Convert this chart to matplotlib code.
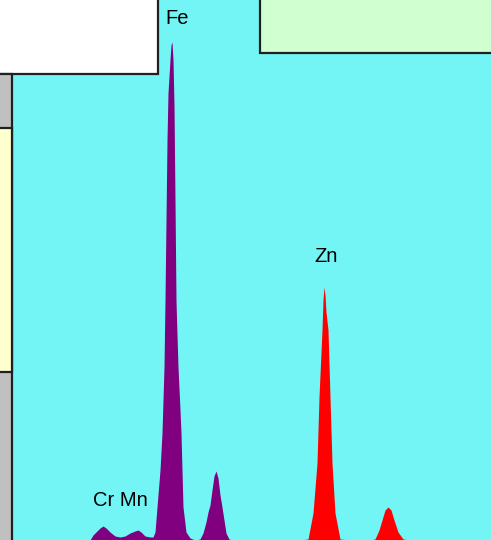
import numpy as np
import matplotlib.pyplot as plt
from matplotlib.patches import Rectangle

# spectrum: channel (x) and counts (height above baseline)
fe_x = [12, 90, 93, 97, 100, 103, 106, 110, 115, 120, 125, 130, 135, 138, 141, 145, 150,
        153, 155, 157, 160, 162, 164, 165, 166, 167, 168, 170, 171, 172,
        173, 174, 175, 176, 177, 178, 180, 181, 182, 183, 186, 190, 195,
        200, 203, 206, 208, 210, 212, 214, 216, 218, 220, 222, 224, 226, 229, 232]
fe_y = [0, 0, 5, 9, 12, 14, 12, 8, 4, 3, 4, 7, 9, 10, 8, 4, 3,
        3, 8, 33, 70, 107, 173, 240, 320, 400, 447, 480, 495, 498,
        480, 435, 340, 240, 205, 173, 130, 107, 70, 33, 8, 2, 0,
        1, 7, 18, 28, 35, 50, 64, 69, 62, 45, 33, 20, 7, 1, 0]

zn_x = [300, 308, 313, 317, 319, 322, 323, 324, 325, 326, 328, 330, 332, 335, 340, 350,
        370, 375, 379, 382, 385, 388, 391, 394, 398, 403, 410]
zn_y = [0, 1, 27, 77, 143, 210, 240, 253, 245, 228, 210, 143, 77, 27, 1, 0,
        0, 1, 10, 20, 30, 33, 30, 20, 8, 1, 0]

labels = ["Fe", "Zn", "Cr Mn"]
label_x = [177, 326, 120]
label_y = [522, 284, 39]

fig = plt.figure(figsize=(4.91, 5.40), dpi=100)
ax = fig.add_axes([0, 0, 1, 1])
ax.set_xlim(0, 491)
ax.set_ylim(0, 540)
ax.set_facecolor('#74f5f5')
ax.axis('off')
fig.patch.set_facecolor('#74f5f5')

ax.fill_between(fe_x, 0, fe_y, color='#800080', lw=0)
ax.fill_between(zn_x, 0, zn_y, color='#ff0000', lw=0)

# frame panels around the plot area
ax.add_patch(Rectangle((-5, 466), 163, 80, facecolor='white', edgecolor='#202020', lw=1.6, zorder=5))
ax.add_patch(Rectangle((260, 487), 240, 60, facecolor='#d0ffd0', edgecolor='#202020', lw=1.6, zorder=5))
ax.add_patch(Rectangle((-5, -5), 17, 471, facecolor='#c0c0c0', edgecolor='#202020', lw=1.6, zorder=5))
ax.add_patch(Rectangle((-5, 168), 17, 244, facecolor='#ffffd0', edgecolor='#202020', lw=1.6, zorder=6))

for t, x, y in zip(labels, label_x, label_y):
    ax.text(x, y, t, ha='center', va='center', fontsize=14.5,
            family='Liberation Sans', color='black', zorder=7)

fig.savefig('out.png', dpi=100)
